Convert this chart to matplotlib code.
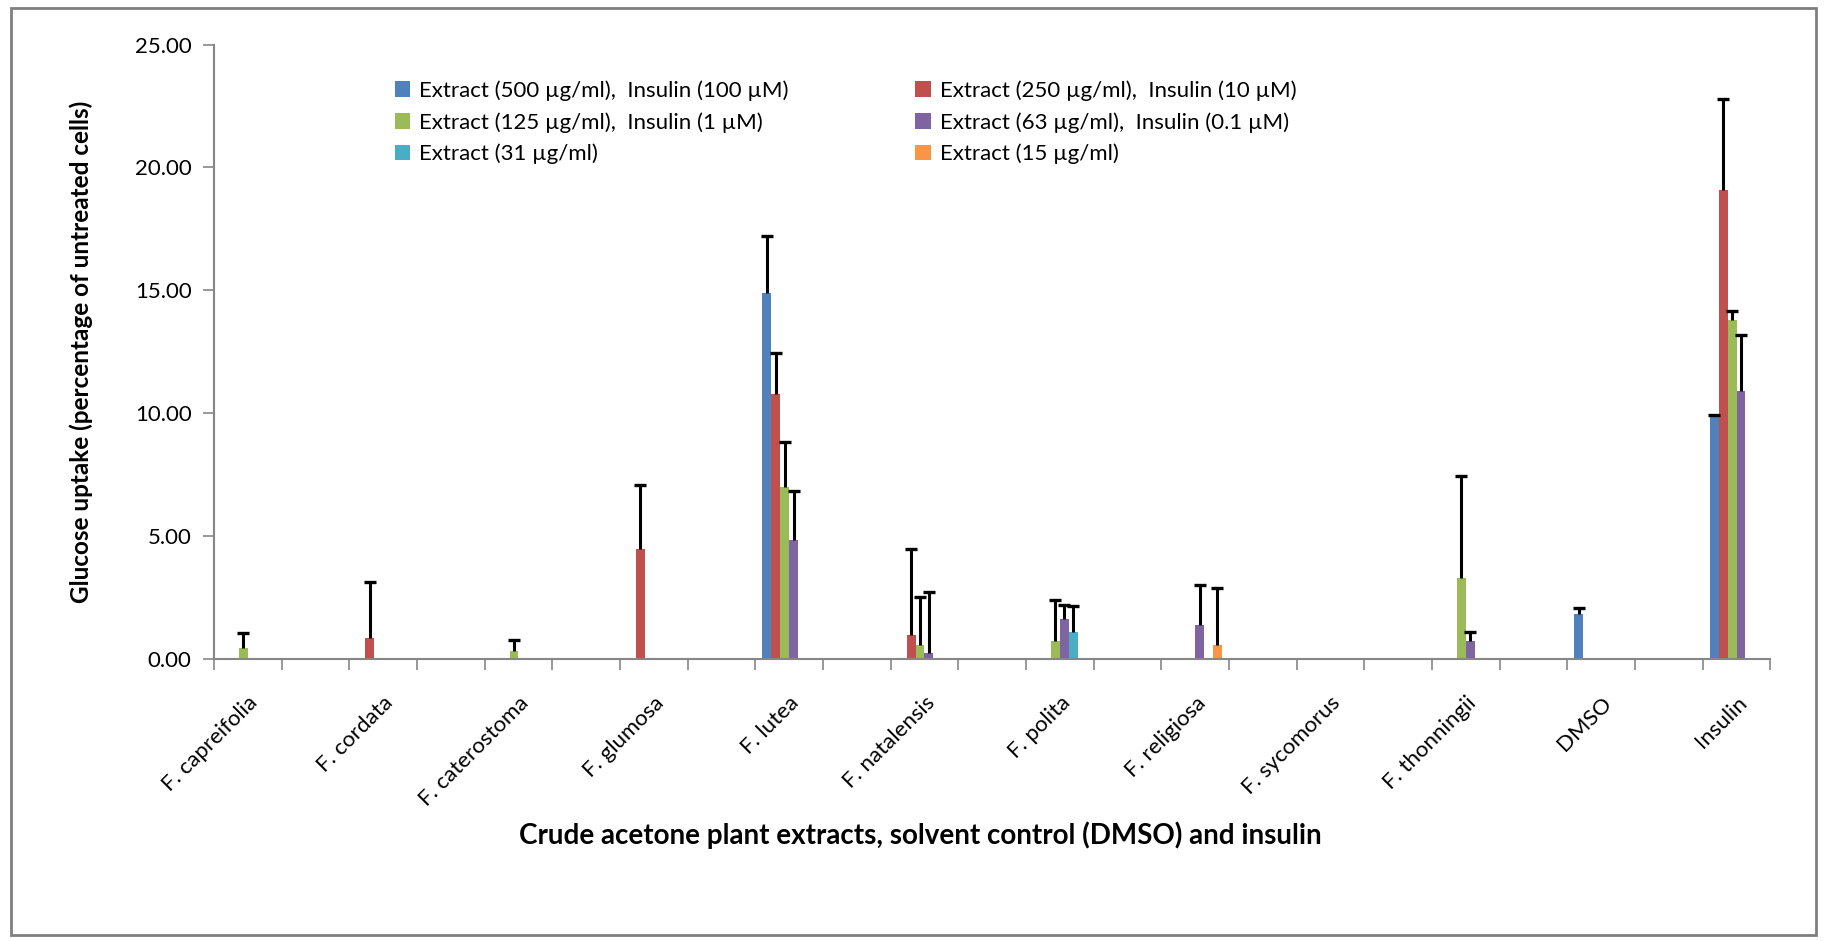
import numpy as np
import matplotlib.pyplot as plt
from matplotlib.patches import Rectangle

plt.rcParams['font.family'] = ['Lato', 'DejaVu Sans']

nan = np.nan

categories = ['F. capreifolia', 'F. cordata', 'F. caterostoma', 'F. glumosa', 'F. lutea',
              'F. natalensis', 'F. polita', 'F. religiosa', 'F. sycomorus', 'F. thonningii',
              'DMSO', 'Insulin']

series_names = ['Extract (500 \u00b5g/ml),  Insulin (100 \u00b5M)',
                'Extract (250 \u00b5g/ml),  Insulin (10 \u00b5M)',
                'Extract (125 \u00b5g/ml),  Insulin (1 \u00b5M)',
                'Extract (63 \u00b5g/ml),  Insulin (0.1 \u00b5M)',
                'Extract (31 \u00b5g/ml)',
                'Extract (15 \u00b5g/ml)']

# mean glucose uptake per treatment, nan = not shown
uptake_500 = [nan, nan, nan, nan, 14.9, nan, nan, nan, nan, nan, 1.85, 9.9]
uptake_250 = [nan, 0.85, nan, 4.5, 10.8, 1.0, nan, nan, nan, nan, nan, 19.1]
uptake_125 = [0.45, nan, 0.32, nan, 7.0, 0.6, 0.75, nan, nan, 3.3, nan, 13.8]
uptake_63 = [nan, nan, nan, nan, 4.85, 0.25, 1.65, 1.4, nan, 0.75, nan, 10.9]
uptake_31 = [nan, nan, nan, nan, nan, nan, 1.1, nan, nan, nan, nan, nan]
uptake_15 = [nan, nan, nan, nan, nan, nan, nan, 0.58, nan, nan, nan, nan]

# upper error (SD)
err_500 = [0, 0, 0, 0, 2.3, 0, 0, 0, 0, 0, 0.25, 0.05]
err_250 = [0, 2.3, 0, 2.6, 1.65, 3.5, 0, 0, 0, 0, 0, 3.7]
err_125 = [0.6, 0, 0.45, 0, 1.85, 1.95, 1.65, 0, 0, 4.15, 0, 0.35]
err_63 = [0, 0, 0, 0, 2.0, 2.5, 0.55, 1.6, 0, 0.35, 0, 2.3]
err_31 = [0, 0, 0, 0, 0, 0, 1.05, 0, 0, 0, 0, 0]
err_15 = [0, 0, 0, 0, 0, 0, 0, 2.3, 0, 0, 0, 0]

values = [uptake_500, uptake_250, uptake_125, uptake_63, uptake_31, uptake_15]
errors = [err_500, err_250, err_125, err_63, err_31, err_15]
colors = ['#4F81BD', '#C0504D', '#9BBB59', '#8064A2', '#4BACC6', '#F79646']

# each plant sits in every second slot, blank slots in between
n_slots = 2 * len(categories) - 1
x = np.arange(len(categories)) * 2

fig = plt.figure(figsize=(18.27, 9.41), dpi=100)
ax = fig.add_axes([0.1171, 0.2994, 0.8519, 0.6533])

w = 0.1315
handles = []
for i in range(6):
    v = np.array(values[i])
    e = np.array(errors[i])
    pos = x + (i - 2.5) * w
    h = ax.bar(pos, v, width=w, color=colors[i], label=series_names[i], zorder=2)
    handles.append(h)
    ok = ~np.isnan(v)
    # upper error only: stem plus a cap on top
    ax.vlines(pos[ok], v[ok], v[ok] + e[ok], color='black', linewidth=2.2, zorder=3)
    ax.plot(pos[ok], v[ok] + e[ok], ls='none', marker='_', markersize=9,
            markeredgewidth=2.4, color='black', zorder=3)

ax.set_xlim(-0.5, n_slots - 0.5)
ax.set_ylim(0, 25)
ax.set_yticks(np.arange(0, 26, 5))
ax.set_yticklabels(['%.2f' % t for t in np.arange(0, 26, 5)], fontsize=16)
ax.set_xticks(x)
ax.set_xticklabels(categories, rotation=45, ha='right', rotation_mode='anchor', fontsize=16)
ax.set_xticks(np.arange(-0.5, n_slots, 1), minor=True)
ax.tick_params(axis='x', which='major', length=0, pad=24)
ax.tick_params(axis='x', which='minor', length=8, width=1.2, color='#868686')
ax.tick_params(axis='y', length=8, width=1.2, color='#868686', pad=8)

for s in ['top', 'right']:
    ax.spines[s].set_visible(False)
for s in ['left', 'bottom']:
    ax.spines[s].set_color('#868686')
    ax.spines[s].set_linewidth(1.5)

ax.set_ylabel('Glucose uptake (percentage of untreated cells)', fontsize=17.5, fontweight='bold', labelpad=30)
fig.text(0.504, 0.112, 'Crude acetone plant extracts, solvent control (DMSO) and insulin',
         ha='center', va='center', fontsize=20, fontweight='bold')

# legend is filled row by row
order = [0, 2, 4, 1, 3, 5]
ax.legend([handles[k] for k in order], [series_names[k] for k in order],
          loc='upper left', bbox_to_anchor=(0.205, 0.936), bbox_transform=fig.transFigure,
          ncol=2, frameon=False, fontsize=16, handlelength=0.7, handleheight=0.7,
          handletextpad=0.4, columnspacing=5.7, labelspacing=0.5)

fig.patches.append(Rectangle((0.006, 0.006), 0.988, 0.986, transform=fig.transFigure,
                             fill=False, edgecolor='#7f7f7f', linewidth=2))

fig.savefig('out.png', dpi=100)
